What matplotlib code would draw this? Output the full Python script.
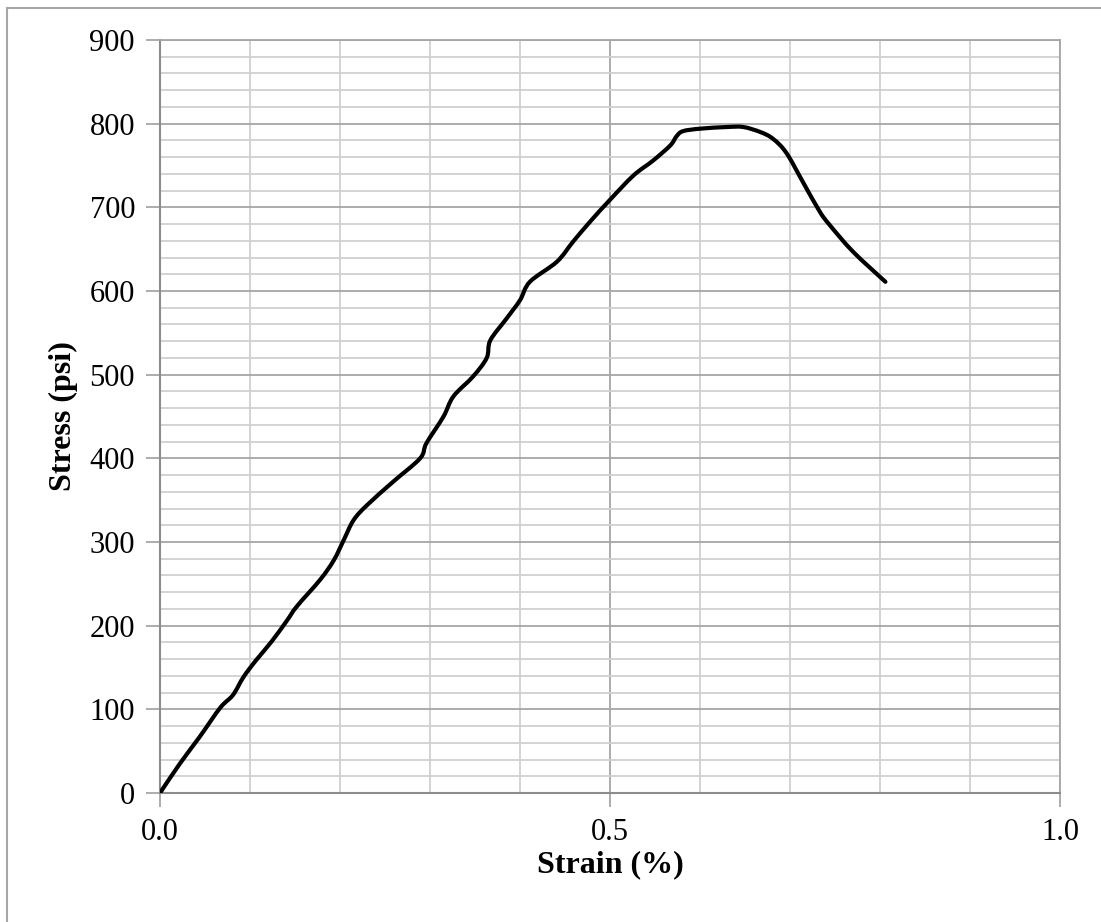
import matplotlib
matplotlib.use("Agg")
import matplotlib.pyplot as plt
from matplotlib.lines import Line2D
from matplotlib.patches import PathPatch
from matplotlib.path import Path
from matplotlib.ticker import MultipleLocator
import numpy as np

strain = [0.0, 0.022, 0.044, 0.067, 0.081, 0.093, 0.107, 0.124, 0.141, 0.152,
          0.178, 0.193, 0.204, 0.215, 0.230, 0.259, 0.289, 0.296, 0.315, 0.326,
          0.348, 0.363, 0.367, 0.385, 0.4, 0.411, 0.441, 0.459, 0.478, 0.5,
          0.526, 0.548, 0.567, 0.574, 0.581, 0.6, 0.630, 0.648, 0.667, 0.681,
          0.696, 0.715, 0.733, 0.744, 0.770, 0.806]
stress = [0, 35, 67, 102, 117, 139, 159, 181, 206, 223,
          255, 278, 302, 326, 344, 372, 400, 418, 450, 474,
          498, 520, 541, 567, 589, 611, 635, 659, 683, 709,
          738, 756, 774, 785, 791, 794, 796, 796, 790, 782,
          765, 729, 695, 679, 647, 611]

x_ticks = [0.0, 0.5, 1.0]
x_tick_labels = ["0.0", "0.5", "1.0"]
y_ticks = list(range(0, 901, 100))

plt.rcParams["font.family"] = ["Liberation Serif", "DejaVu Serif"]


def smooth_path(xs, ys):
    """Cubic Bezier path through every point (Catmull-Rom style handles)."""
    pts = np.column_stack([xs, ys]).astype(float)
    verts = [pts[0]]
    codes = [Path.MOVETO]
    n = len(pts)
    for i in range(n - 1):
        p0 = pts[i - 1] if i > 0 else pts[i]
        p1 = pts[i]
        p2 = pts[i + 1]
        p3 = pts[i + 2] if i + 2 < n else pts[i + 1]
        c1 = p1 + (p2 - p0) / 6.0
        c2 = p2 - (p3 - p1) / 6.0
        verts += [c1, c2, p2]
        codes += [Path.CURVE4] * 3
    return Path(verts, codes)


fig = plt.figure(figsize=(11.01, 9.22), dpi=100)
fig.patch.set_facecolor("white")

# chart-area frame: only the top and left edges fall inside the image
x0, y0 = 7 / 1101, 1 - 8 / 922
fig.add_artist(Line2D([x0, 1.0], [y0, y0], transform=fig.transFigure,
                      color="#a6a6a6", linewidth=1.5))
fig.add_artist(Line2D([x0, x0], [0.0, y0], transform=fig.transFigure,
                      color="#a6a6a6", linewidth=1.5))

ax = fig.add_axes([160 / 1101, 129 / 922, 900 / 1101, 753 / 922])
ax.set_xlim(0, 1.0)
ax.set_ylim(0, 900)

ax.xaxis.set_minor_locator(MultipleLocator(0.1))
ax.yaxis.set_minor_locator(MultipleLocator(20))
ax.grid(which="minor", color="#d0d0d0", linewidth=1.3)
ax.grid(which="major", color="#a6a6a6", linewidth=1.3)
ax.set_axisbelow(True)

curve = PathPatch(smooth_path(strain, stress), facecolor="none",
                  edgecolor="black", linewidth=3.0, capstyle="round",
                  joinstyle="round", zorder=3)
ax.add_patch(curve)

ax.set_xticks(x_ticks)
ax.set_xticklabels(x_tick_labels)
ax.set_yticks(y_ticks)
ax.tick_params(which="major", direction="out", length=10, width=1.3,
               color="#a6a6a6", labelsize=22, pad=8)
ax.tick_params(which="minor", length=0)

for side in ["left", "bottom"]:
    ax.spines[side].set_color("#8c8c8c")
    ax.spines[side].set_linewidth(1.5)
for side in ["top", "right"]:
    ax.spines[side].set_color("#a6a6a6")
    ax.spines[side].set_linewidth(1.3)

ax.set_xlabel("Strain (%)", fontsize=23, fontweight="bold", labelpad=2)
ax.set_ylabel("Stress (psi)", fontsize=23, fontweight="bold", labelpad=8)

fig.savefig("out.png", dpi=100, facecolor="white")
